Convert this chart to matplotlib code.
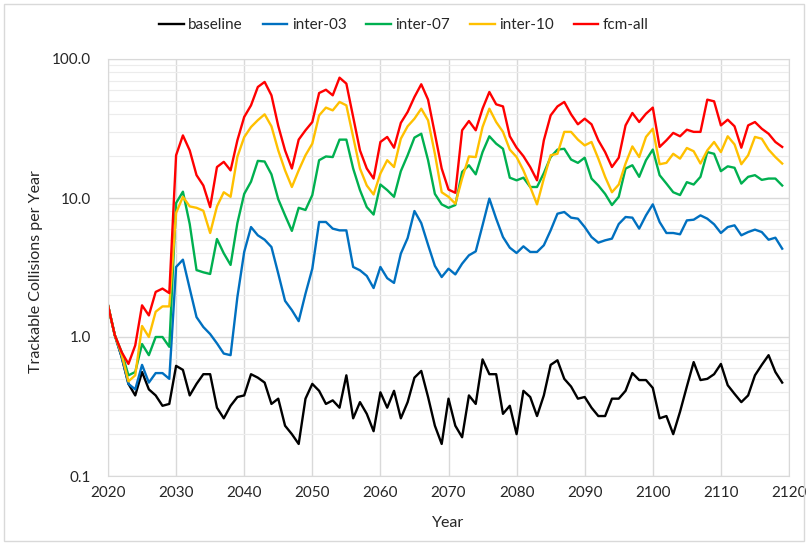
import numpy as np
import matplotlib.pyplot as plt
from matplotlib.patches import Rectangle
from matplotlib.ticker import FuncFormatter, LogLocator, NullFormatter

plt.rcParams['font.family'] = ['Lato', 'DejaVu Sans']

# annual values, 2020 .. 2119
years = np.arange(2020, 2120)

baseline = [
    1.69, 1.03, 0.72, 0.46, 0.38, 0.56, 0.42, 0.38, 0.32, 0.33,
    0.62, 0.58, 0.38, 0.46, 0.54, 0.54, 0.31, 0.26, 0.32, 0.37,
    0.38, 0.54, 0.51, 0.47, 0.33, 0.36, 0.23, 0.20, 0.17, 0.36,
    0.46, 0.41, 0.33, 0.35, 0.31, 0.53, 0.26, 0.34, 0.28, 0.21,
    0.40, 0.31, 0.41, 0.26, 0.34, 0.51, 0.57, 0.37, 0.23, 0.17,
    0.36, 0.23, 0.19, 0.38, 0.33, 0.69, 0.54, 0.54, 0.28, 0.32,
    0.20, 0.41, 0.37, 0.27, 0.38, 0.63, 0.68, 0.50, 0.44, 0.36,
    0.37, 0.31, 0.27, 0.27, 0.36, 0.36, 0.41, 0.55, 0.49, 0.49,
    0.43, 0.26, 0.27, 0.20, 0.29, 0.44, 0.66, 0.49, 0.50, 0.54,
    0.64, 0.45, 0.39, 0.34, 0.38, 0.53, 0.63, 0.74, 0.56, 0.47,
]

inter_03 = [
    1.69, 1.03, 0.72, 0.46, 0.42, 0.63, 0.47, 0.55, 0.55, 0.50,
    3.19, 3.60, 2.23, 1.39, 1.18, 1.05, 0.90, 0.76, 0.74, 1.94,
    4.09, 6.18, 5.39, 5.01, 4.44, 2.86, 1.82, 1.56, 1.30, 2.05,
    3.10, 6.72, 6.72, 6.02, 5.85, 5.85, 3.19, 3.02, 2.75, 2.25,
    3.19, 2.65, 2.45, 3.98, 5.15, 8.06, 6.60, 4.60, 3.25, 2.70,
    3.10, 2.82, 3.37, 3.87, 4.13, 6.36, 9.90, 7.10, 5.24, 4.39,
    4.02, 4.49, 4.09, 4.09, 4.57, 5.85, 7.71, 7.93, 7.22, 7.10,
    6.18, 5.24, 4.77, 4.96, 5.10, 6.50, 7.30, 7.22, 6.02, 7.50,
    9.00, 6.72, 5.60, 5.60, 5.48, 6.90, 6.98, 7.50, 7.10, 6.47,
    5.60, 6.18, 6.36, 5.39, 5.69, 5.92, 5.69, 5.01, 5.18, 4.32,
]

inter_07 = [
    1.69, 1.03, 0.78, 0.53, 0.56, 0.89, 0.74, 1.00, 1.00, 0.85,
    9.2, 11.1, 6.5, 3.03, 2.92, 2.84, 5.07, 4.0, 3.3, 6.6,
    10.7, 13.1, 18.5, 18.3, 14.8, 9.8, 7.5, 5.8, 8.5, 8.2,
    10.5, 18.7, 19.9, 19.7, 26.3, 26.3, 16.3, 11.4, 8.6, 7.6,
    12.5, 11.4, 10.2, 15.6, 20.3, 27.2, 29.0, 18.7, 10.7, 9.0,
    8.5, 8.9, 15.4, 17.2, 14.8, 21.4, 27.8, 24.6, 22.6, 14.0,
    13.4, 14.0, 12.0, 12.0, 15.1, 19.7, 22.3, 22.6, 18.9, 17.9,
    19.5, 13.8, 12.3, 10.7, 8.9, 10.2, 16.3, 17.2, 14.2, 18.7,
    22.3, 14.6, 12.7, 11.0, 10.5, 13.0, 12.5, 14.2, 21.4, 20.8,
    15.6, 16.9, 16.5, 12.7, 14.2, 14.6, 13.5, 13.8, 13.8, 12.3,
]

inter_10 = [
    1.69, 1.03, 0.75, 0.48, 0.53, 1.20, 1.00, 1.52, 1.66, 1.66,
    7.8, 10.2, 8.7, 8.5, 8.1, 5.6, 8.7, 11.0, 10.2, 19.8,
    27.4, 32.4, 36.3, 40.0, 32.8, 22.0, 15.8, 12.0, 15.8, 20.3,
    24.6, 39.3, 44.7, 42.7, 49.1, 46.4, 27.5, 16.3, 12.3, 10.6,
    15.0, 18.7, 16.7, 26.7, 32.8, 37.2, 43.9, 36.2, 20.8, 11.0,
    10.2, 9.1, 13.8, 19.9, 19.7, 32.4, 43.9, 35.2, 29.9, 22.3,
    19.7, 15.8, 12.0, 9.0, 13.8, 20.3, 20.8, 29.9, 29.9, 26.3,
    23.9, 25.3, 19.2, 14.2, 11.0, 12.5, 17.7, 23.5, 19.7, 27.5,
    31.5, 17.5, 17.9, 20.8, 19.2, 22.9, 21.7, 17.7, 22.0, 25.3,
    21.4, 27.8, 24.3, 17.5, 20.3, 27.5, 26.7, 22.3, 19.7, 17.7,
]

fcm_all = [
    1.69, 1.03, 0.78, 0.64, 0.87, 1.69, 1.43, 2.11, 2.23, 2.07,
    20.3, 28.2, 22.0, 14.6, 12.3, 8.6, 16.7, 18.2, 15.8, 26.0,
    38.3, 46.4, 62.9, 68.4, 54.8, 33.0, 22.0, 16.3, 26.3, 30.7,
    35.2, 56.9, 60.1, 54.8, 73.4, 66.5, 38.3, 22.0, 16.3, 13.8,
    25.3, 27.5, 23.0, 34.7, 41.6, 53.3, 65.8, 51.0, 29.0, 16.3,
    11.5, 10.9, 30.7, 35.8, 30.7, 43.9, 57.9, 47.2, 45.6, 27.8,
    23.0, 20.0, 16.7, 13.4, 26.0, 39.3, 45.6, 49.1, 40.0, 33.9,
    37.2, 33.9, 26.0, 21.4, 16.7, 19.5, 33.3, 40.9, 35.2, 40.4,
    44.7, 23.3, 26.0, 29.4, 27.8, 31.0, 29.9, 29.9, 51.0, 49.6,
    33.3, 36.6, 32.8, 23.0, 33.3, 35.2, 31.5, 29.0, 25.3, 23.3,
]

series = [
    ('baseline', baseline, '#000000'),
    ('inter-03', inter_03, '#0070C0'),
    ('inter-07', inter_07, '#00B050'),
    ('inter-10', inter_10, '#FFC000'),
    ('fcm-all', fcm_all, '#FF0000'),
]

W, H = 808, 545
fig = plt.figure(figsize=(W / 100, H / 100), dpi=100)
ax = fig.add_axes([108 / W, 1 - 476 / H, (789 - 108) / W, (476 - 59) / H])

for name, vals, col in series:
    ax.plot(years, vals, color=col, lw=1.7, label=name)

ax.set_yscale('log')
ax.set_ylim(0.1, 100)
ax.set_xlim(2020, 2120)
ax.set_xticks(range(2020, 2121, 10))
ax.yaxis.set_major_formatter(FuncFormatter(lambda v, p: f'{v:.1f}'))
ax.yaxis.set_minor_locator(LogLocator(base=10, subs=np.arange(2, 10)))
ax.yaxis.set_minor_formatter(NullFormatter())

ax.grid(which='major', color='#d9d9d9', lw=1)
ax.grid(which='minor', axis='y', color='#ececec', lw=0.8)
ax.set_axisbelow(True)
for s in ax.spines.values():
    s.set_color('#d9d9d9')
ax.tick_params(which='both', length=0, labelsize=11, colors='#262626')
ax.tick_params(axis='y', pad=12)
ax.tick_params(axis='x', pad=7)

ax.set_xlabel('Year', fontsize=11.5, color='#262626')
ax.set_ylabel('Trackable Collisions per Year', fontsize=11.5, color='#262626')
ax.xaxis.set_label_coords(0.5, -0.095)
ax.yaxis.set_label_coords(-0.095, 0.49)

fig.legend(loc='center', bbox_to_anchor=(0.5, 1 - 25 / H), ncol=5,
           frameon=False, fontsize=11, handlelength=1.6,
           handletextpad=0.3, columnspacing=1.3, labelcolor='#262626')

fig.patches.append(Rectangle((4 / W, 4 / H), 800 / W, 537 / H,
                             transform=fig.transFigure, fill=False,
                             edgecolor='#d9d9d9', lw=1))

fig.savefig('out.png', dpi=100)
